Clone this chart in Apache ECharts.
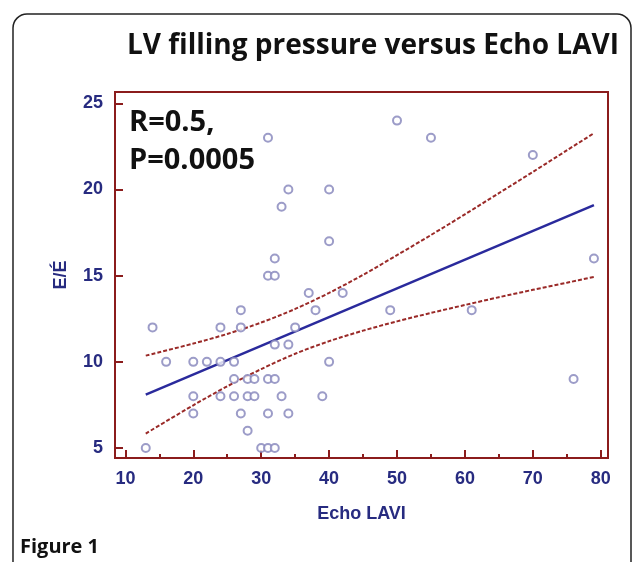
<!DOCTYPE html>
<html>
<head>
<meta charset="utf-8">
<script src="https://cdn.jsdelivr.net/npm/echarts@6/dist/echarts.min.js"></script>
<style>
  html, body { margin: 0; padding: 0; background: #fff; }
  #chart { width: 633px; height: 562px; }
</style>
</head>
<body>
<div id="chart"></div>
<script>
  // scatter points (Echo LAVI, E/E')
  var lavi = [31, 34, 33, 32, 31, 32, 50, 55, 70, 40, 40, 79,
    13, 14, 16, 20, 20, 20, 22, 24, 24, 24, 26, 26, 26, 27, 27, 27,
    28, 28, 28, 29, 29, 30, 31, 32, 31, 32, 31, 32, 33, 34, 34, 35,
    37, 38, 42, 40, 39, 49, 61, 76]
  var ee = [23, 20, 19, 16, 15, 15, 24, 23, 22, 20, 17, 16,
    5, 12, 10, 10, 8, 7, 10, 12, 10, 8, 10, 9, 8, 13, 12, 7,
    9, 8, 6, 9, 8, 5, 5, 5, 9, 9, 7, 11, 8, 11, 7, 12,
    14, 13, 14, 10, 8, 13, 13, 9]

  // regression line ends
  var regX = [13, 79]
  var regY = [8.1, 19.1]

  // 95% confidence band
  var ciX = [13, 20, 25, 30, 35, 40, 45, 50, 55, 60, 65, 70, 75, 79]
  var ciUpper = [10.36, 11.06, 11.62, 12.28, 13.07, 14.0, 15.05, 16.19, 17.36, 18.56, 19.79, 21.02, 22.27, 23.27]
  var ciLower = [5.84, 7.48, 8.58, 9.58, 10.47, 11.2, 11.81, 12.35, 12.84, 13.3, 13.75, 14.18, 14.59, 14.93]

  var xMajor = [10, 20, 30, 40, 50, 60, 70, 80]
  var xMinor = [15, 25, 35, 45, 55, 65, 75]
  var yMajor = [5, 10, 15, 20, 25]

  var frameColor = '#8B1C1C'
  var navy = '#272B80'

  function pairs(xs, ys) {
    var out = []
    for (var i = 0; i < xs.length; i++) out.push([xs[i], ys[i]])
    return out
  }

  var chart = echarts.init(document.getElementById('chart'))
  var option = {
    backgroundColor: '#fff',
    animation: false,
    title: {
      text: 'LV filling pressure versus Echo LAVI',
      left: 368,
      textAlign: 'center',
      top: 27,
      textStyle: {
        fontFamily: 'Open Sans',
        fontWeight: 'bold',
        fontSize: 28,
        color: '#111'
      }
    },
    graphic: [
      {
        type: 'rect',
        shape: { x: 13, y: 14, width: 618, height: 580, r: 14 },
        style: { fill: 'none', stroke: '#222', lineWidth: 1.5 },
        silent: true
      },
      {
        type: 'text',
        left: 129,
        top: 104,
        style: {
          text: 'R=0.5,\nP=0.0005',
          font: 'bold 29px "Open Sans"',
          lineHeight: 38,
          fill: '#111'
        }
      },
      {
        type: 'text',
        left: 20,
        top: 537,
        style: {
          text: 'Figure 1',
          font: 'bold 20px "Open Sans"',
          fill: '#111'
        }
      }
    ],
    grid: {
      left: 115,
      top: 92,
      width: 493,
      height: 366,
      show: true,
      borderColor: frameColor,
      borderWidth: 2
    },
    xAxis: [
      {
        type: 'value',
        min: 8.47,
        max: 81.07,
        position: 'bottom',
        name: 'Echo LAVI',
        nameLocation: 'middle',
        nameGap: 47,
        nameTextStyle: { color: navy, fontFamily: 'Liberation Sans', fontWeight: 'bold', fontSize: 18 },
        axisLine: { lineStyle: { color: frameColor, width: 2 } },
        axisTick: { inside: true, length: 8, lineStyle: { color: frameColor, width: 2 }, customValues: xMajor },
        axisLabel: { customValues: xMajor, margin: 12, color: navy, fontFamily: 'Liberation Sans', fontWeight: 'bold', fontSize: 18 },
        splitLine: { show: false }
      },
      {
        type: 'value',
        min: 8.47,
        max: 81.07,
        position: 'bottom',
        axisLine: { show: false },
        axisTick: { inside: true, length: 4, lineStyle: { color: frameColor, width: 2 }, customValues: xMinor },
        axisLabel: { show: false },
        splitLine: { show: false }
      }
    ],
    yAxis: {
      type: 'value',
      min: 4.42,
      max: 25.66,
      name: 'E/É',
      nameLocation: 'middle',
      nameRotate: 90,
      nameGap: 45,
      nameTextStyle: { color: navy, fontFamily: 'Liberation Sans', fontWeight: 'bold', fontSize: 18 },
      axisLine: { lineStyle: { color: frameColor, width: 2 } },
      axisTick: { inside: true, length: 8, lineStyle: { color: frameColor, width: 2 }, customValues: yMajor },
      axisLabel: { customValues: yMajor, margin: 12, color: navy, fontFamily: 'Liberation Sans', fontWeight: 'bold', fontSize: 18 },
      splitLine: { show: false }
    },
    series: [
      {
        name: 'upper',
        type: 'line',
        data: pairs(ciX, ciUpper),
        smooth: 0.3,
        showSymbol: false,
        lineStyle: { color: '#9A2A28', width: 2, type: [4, 2] },
        z: 2
      },
      {
        name: 'lower',
        type: 'line',
        data: pairs(ciX, ciLower),
        smooth: 0.3,
        showSymbol: false,
        lineStyle: { color: '#9A2A28', width: 2, type: [4, 2] },
        z: 2
      },
      {
        name: 'fit',
        type: 'line',
        data: pairs(regX, regY),
        showSymbol: false,
        lineStyle: { color: '#2A2A9C', width: 2.5 },
        z: 3
      },
      {
        name: 'points',
        type: 'scatter',
        data: pairs(lavi, ee),
        symbol: 'emptyCircle',
        symbolSize: 8,
        itemStyle: { color: '#8383BA', borderWidth: 1.5 },
        z: 4
      }
    ]
  }
  chart.setOption(option)
</script>
</body>
</html>
